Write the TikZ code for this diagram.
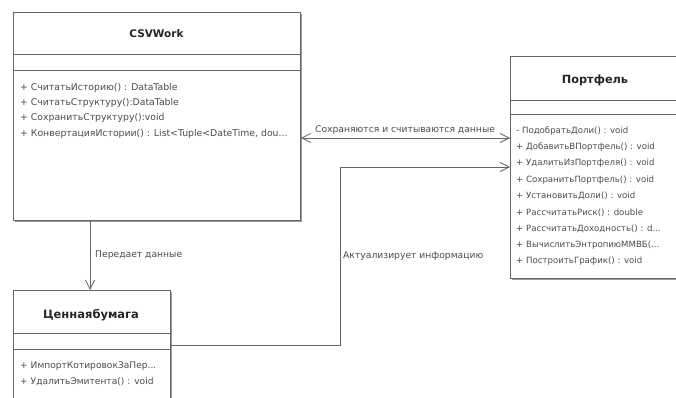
\documentclass[tikz,border=0pt]{standalone}
\usepackage{fontspec}
\setmainfont{DejaVu Sans}
\usetikzlibrary{arrows.meta,calc}
\begin{document}
\begin{tikzpicture}[x=1pt,y=-1pt,
  cls/.style={draw=black!60,line width=0.9pt,fill=white,rectangle,anchor=north west,inner sep=0pt},
  boxshadow/.style={fill=black!40},
  divline/.style={draw=black!60,line width=0.8pt},
  ttl/.style={font=\bfseries\fontsize{#1}{#1}\selectfont,text=black!85,inner sep=0pt},
  mth/.style={font=\fontsize{#1}{10}\selectfont,text=black!70,anchor=west,inner sep=0pt},
  lbl/.style={font=\fontsize{9.2}{10}\selectfont,text=black!70,inner sep=0pt},
  conn/.style={draw=black!60,line width=0.8pt},
  barb/.tip={Straight Barb[length=9pt,width=9pt]}]
\useasboundingbox (0,0) rectangle (676,398);
\clip (0,0) rectangle (676,398);

% CSVWork
\fill[boxshadow] (15,14) rectangle (302,222);
\node[cls,minimum width=287pt,minimum height=208pt] (csv) at (13,12) {};
\draw[divline] (13,54) -- (300,54);
\draw[divline] (13,70) -- (300,70);
\node[ttl=10.5] (csvt) at (156.5,34) {CSVWork};
\node[mth=9.3] (csvm1) at (20,88) {+ СчитатьИсторию() : DataTable};
\node[mth=9.3] (csvm2) at (20,103) {+ СчитатьСтруктуру():DataTable};
\node[mth=9.3] (csvm3) at (20,118) {+ СохранитьСтруктуру():void};
\node[mth=9.3] (csvm4) at (20,134) {+ КонвертацияИстории() : List<Tuple<DateTime, dou...};

% Ценнаябумага
\fill[boxshadow] (15,292) rectangle (172,420);
\node[cls,minimum width=157pt,minimum height=125pt] (cb) at (13,290) {};
\draw[divline] (13,333) -- (170,333);
\draw[divline] (13,349) -- (170,349);
\node[ttl=11.5] (cbt) at (91,315) {Ценнаябумага};
\node[mth=9.1] (cbm1) at (20,366) {+ ИмпортКотировокЗаПер...};
\node[mth=9.1] (cbm2) at (20,382) {+ УдалитьЭмитента() : void};

% Портфель
\fill[boxshadow] (512,58) rectangle (690,280);
\node[cls,minimum width=175pt,minimum height=222pt] (pf) at (510,56) {};
\draw[divline] (510,100) -- (685,100);
\draw[divline] (510,114) -- (685,114);
\node[ttl=11.3] (pft) at (595,80) {Портфель};
\node[mth=8.6] (pfm1) at (516,131) {- ПодобратьДоли() : void};
\node[mth=8.6] (pfm2) at (516,147.3) {+ ДобавитьВПортфель() : void};
\node[mth=8.6] (pfm3) at (516,163.6) {+ УдалитьИзПортфеля() : void};
\node[mth=8.6] (pfm4) at (516,179.9) {+ СохранитьПортфель() : void};
\node[mth=8.6] (pfm5) at (516,196.2) {+ УстановитьДоли() : void};
\node[mth=8.6] (pfm6) at (516,212.5) {+ РассчитатьРиск() : double};
\node[mth=8.6] (pfm7) at (516,228.8) {+ РассчитатьДоходность() : d...};
\node[mth=8.6] (pfm8) at (516,245.1) {+ ВычислитьЭнтропиюММВБ(...};
\node[mth=8.6] (pfm9) at (516,261.4) {+ ПостроитьГрафик() : void};

% connectors
\draw[conn,-barb] ($(csv.south west)+(77,0)$) -- ($(cb.north west)+(77,0)$);
\node[lbl,anchor=west] (l1) at (95,255) {Передает данные};

\draw[conn,barb-barb] ($(csv.north east)+(0,126)$) -- ($(pf.north west)+(0,82)$);
\node[lbl] (l2) at (405,130) {Сохраняются и считываются данные};

\coordinate (c1) at (340,345);
\coordinate (c2) at (340,167);
\draw[conn,-barb] ($(cb.north east)+(0,55)$) -- (c1) -- (c2) -- ($(pf.north west)+(0,111)$);
\node[lbl,anchor=west] (l3) at (343,256) {Актуализирует информацию};
\end{tikzpicture}
\end{document}
